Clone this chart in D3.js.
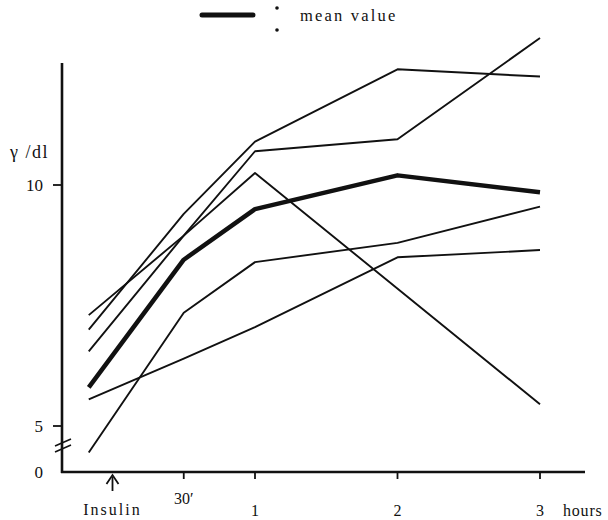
<!DOCTYPE html>
<html>
<head>
<meta charset="utf-8">
<script src="https://cdn.jsdelivr.net/npm/d3@7"></script>
<style>
  body { margin: 0; background: #fff; }
  text { font-family: "Liberation Serif", "DejaVu Serif", serif; fill: #111; }
</style>
</head>
<body>
<div class="main"></div>
<script>
////Globals
const width = 608;
const height = 520;

// sampling times in minutes after insulin (first sample taken before injection)
const timesMin = [-10, 30, 60, 120, 180];
const caseA = [7.0, 9.4, 10.9, 12.4, 12.25];
const caseB = [6.55, 8.95, 10.7, 10.95, 13.05];
const caseC = [7.3, 8.95, 10.25, null, 5.45];
const caseD = [4.45, 7.35, 8.4, 8.8, 9.55];
const caseE = [5.55, 6.4, 7.05, 8.5, 8.65];
const meanValue = [5.8, 8.45, 9.5, 10.2, 9.85];

const xTickMinutes = [30, 60, 120, 180];
const xTickLabels = ['30′', '1', '2', '3'];
const yTicks = [5, 10];

const svg = d3.select('.main').append('svg')
  .attr('width', width)
  .attr('height', height);

const axisX0 = 62;
const axisY0 = 472;

const x = d3.scaleLinear().domain([0, 180]).range([112.5, 540]);
const y = d3.scaleLinear().domain([5, 10]).range([426, 185]);

// axes
svg.append('line')
  .attr('x1', axisX0).attr('x2', axisX0)
  .attr('y1', 63).attr('y2', axisY0 + 1)
  .attr('stroke', '#111').attr('stroke-width', 2.6);
svg.append('line')
  .attr('x1', axisX0 - 1).attr('x2', 585)
  .attr('y1', axisY0).attr('y2', axisY0)
  .attr('stroke', '#111').attr('stroke-width', 2.6);

// y ticks
yTicks.forEach(t => {
  svg.append('line')
    .attr('x1', axisX0 - 9).attr('x2', axisX0)
    .attr('y1', y(t)).attr('y2', y(t))
    .attr('stroke', '#111').attr('stroke-width', 1.8);
  svg.append('text')
    .attr('x', axisX0 - 19).attr('y', y(t))
    .attr('dy', '0.35em')
    .attr('text-anchor', 'end')
    .attr('font-size', 17)
    .text(t);
});
svg.append('text')
  .attr('x', axisX0 - 19).attr('y', axisY0)
  .attr('dy', '0.35em')
  .attr('text-anchor', 'end')
  .attr('font-size', 17)
  .text('0');

// axis break
[0, 6].forEach(off => {
  svg.append('line')
    .attr('x1', axisX0 - 7).attr('x2', axisX0 + 9)
    .attr('y1', 446 + off).attr('y2', 439 + off)
    .attr('stroke', '#111').attr('stroke-width', 1.6);
});

svg.append('text')
  .attr('x', 10).attr('y', 152)
  .attr('dy', '0.35em')
  .attr('font-size', 18)
  .attr('letter-spacing', 1.5)
  .text('γ /dl');

// x ticks
xTickMinutes.forEach((t, i) => {
  svg.append('line')
    .attr('x1', x(t)).attr('x2', x(t))
    .attr('y1', axisY0).attr('y2', axisY0 + 7)
    .attr('stroke', '#111').attr('stroke-width', 1.8);
  svg.append('text')
    .attr('x', x(t)).attr('y', i === 0 ? 498 : 510)
    .attr('dy', '0.35em')
    .attr('text-anchor', 'middle')
    .attr('font-size', 16)
    .text(xTickLabels[i]);
});
svg.append('text')
  .attr('x', 563).attr('y', 510)
  .attr('dy', '0.35em')
  .attr('font-size', 16)
  .attr('letter-spacing', 0.8)
  .text('hours');

// insulin arrow
svg.append('line')
  .attr('x1', x(0)).attr('x2', x(0))
  .attr('y1', 491).attr('y2', 477)
  .attr('stroke', '#111').attr('stroke-width', 1.8);
svg.append('path')
  .attr('d', `M${x(0) - 6},${484} L${x(0)},${475} L${x(0) + 6},${484}`)
  .attr('fill', 'none')
  .attr('stroke', '#111').attr('stroke-width', 1.8);
svg.append('text')
  .attr('x', x(0)).attr('y', 509)
  .attr('dy', '0.35em')
  .attr('text-anchor', 'middle')
  .attr('font-size', 16)
  .attr('letter-spacing', 2)
  .text('Insulin');

// lines
const line = d3.line()
  .x(d => x(d[0]))
  .y(d => y(d[1]));

const toPts = vals => timesMin.map((t, i) => [t, vals[i]]).filter(d => d[1] !== null);

[caseA, caseB, caseC, caseD, caseE].forEach(vals => {
  svg.append('path')
    .attr('d', line(toPts(vals)))
    .attr('fill', 'none')
    .attr('stroke', '#111')
    .attr('stroke-width', 1.9)
    .attr('stroke-linejoin', 'round');
});

svg.append('path')
  .attr('d', line(toPts(meanValue)))
  .attr('fill', 'none')
  .attr('stroke', '#111')
  .attr('stroke-width', 4.5)
  .attr('stroke-linejoin', 'round');

// legend
svg.append('line')
  .attr('x1', 202).attr('x2', 253)
  .attr('y1', 15).attr('y2', 15)
  .attr('stroke', '#111').attr('stroke-width', 5)
  .attr('stroke-linecap', 'round');
[8, 30].forEach(cy => {
  svg.append('circle')
    .attr('cx', 277).attr('cy', cy).attr('r', 1.8)
    .attr('fill', '#111');
});
svg.append('text')
  .attr('x', 300).attr('y', 15)
  .attr('dy', '0.35em')
  .attr('font-size', 16.5)
  .attr('letter-spacing', 2.2)
  .text('mean value');
</script>
</body>
</html>
